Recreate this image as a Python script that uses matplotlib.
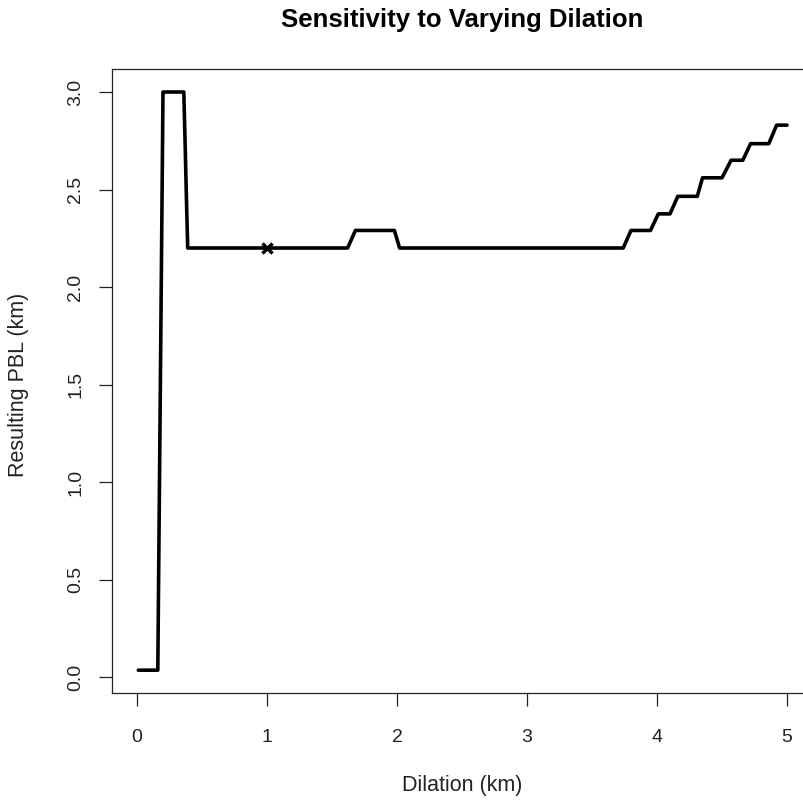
import matplotlib
matplotlib.use("Agg")
import matplotlib.pyplot as plt

# ---- data ----
dilation_km = [0.01, 0.16, 0.17, 0.18, 0.19, 0.20, 0.36, 0.37, 0.38, 0.39,
               1.62, 1.65, 1.68, 1.98, 2.00, 2.02,
               3.74, 3.80, 3.95, 4.01, 4.10, 4.16, 4.31, 4.35, 4.50, 4.57,
               4.66, 4.72, 4.86, 4.92, 5.00]
pbl_km = [0.035, 0.035, 0.78, 1.52, 2.26, 3.0, 3.0, 2.74, 2.46, 2.2,
          2.2, 2.245, 2.29, 2.29, 2.245, 2.2,
          2.2, 2.29, 2.29, 2.375, 2.375, 2.465, 2.465, 2.56, 2.56, 2.65,
          2.65, 2.735, 2.735, 2.83, 2.83]
marker_x = [1.0]
marker_y = [2.2]
x_ticks = [0, 1, 2, 3, 4, 5]
y_ticks = [0.0, 0.5, 1.0, 1.5, 2.0, 2.5, 3.0]
title = "Sensitivity to Varying Dilation"
x_label = "Dilation (km)"
y_label = "Resulting PBL (km)"

plt.rcParams['font.family'] = ['Liberation Sans', 'DejaVu Sans']

W, H = 804, 800
fig = plt.figure(figsize=(W / 100, H / 100), dpi=100)

# R-style 4% axis extension
xr = max(dilation_km) - min(dilation_km)
yr = max(pbl_km) - min(pbl_km)
xlim = (min(dilation_km) - 0.04 * xr, max(dilation_km) + 0.04 * xr)
ylim = (min(pbl_km) - 0.04 * yr, max(pbl_km) + 0.04 * yr)

# pixel layout of plot region (x=0 at 137px, 130 px/unit; y=0 at 677px, 195 px/unit)
left_px = 137 + xlim[0] * 130
right_px = 137 + xlim[1] * 130
bottom_px = 677 - ylim[0] * 195
top_px = 677 - ylim[1] * 195
ax = fig.add_axes([left_px / W, 1 - bottom_px / H,
                   (right_px - left_px) / W, (bottom_px - top_px) / H])

ax.plot(dilation_km, pbl_km, color='black', lw=2.6,
        solid_capstyle='round', solid_joinstyle='round')
ax.plot(marker_x, marker_y, linestyle='none', marker='x', color='black',
        markersize=7, markeredgewidth=2.5)

ax.set_xlim(xlim)
ax.set_ylim(ylim)
ax.set_xticks(x_ticks)
ax.set_xticklabels([str(v) for v in x_ticks])
ax.set_yticks(y_ticks)
ax.set_yticklabels([f"{v:.1f}" for v in y_ticks], rotation=90, va='center')

for s in ax.spines.values():
    s.set_linewidth(0.9)
    s.set_color('#222222')

ax.tick_params(axis='both', direction='out', length=9.4, width=0.9,
               color='#222222', labelsize=14, labelcolor='#222222')
ax.tick_params(axis='x', pad=16)
ax.tick_params(axis='y', pad=11)

cx = (left_px + right_px) / 2 / W
fig.text(cx, 1 - 20 / H, title, ha='center', va='center',
         fontsize=18.5, fontweight='bold', color='black')
fig.text(cx, 1 - 786 / H, x_label, ha='center', va='center',
         fontsize=15.5, color='#222222')
fig.text(19 / W, 1 - (677 - 1.5 * 195) / H, y_label, ha='center', va='center',
         rotation=90, fontsize=15.5, color='#222222')

fig.savefig("out.png", dpi=100)
